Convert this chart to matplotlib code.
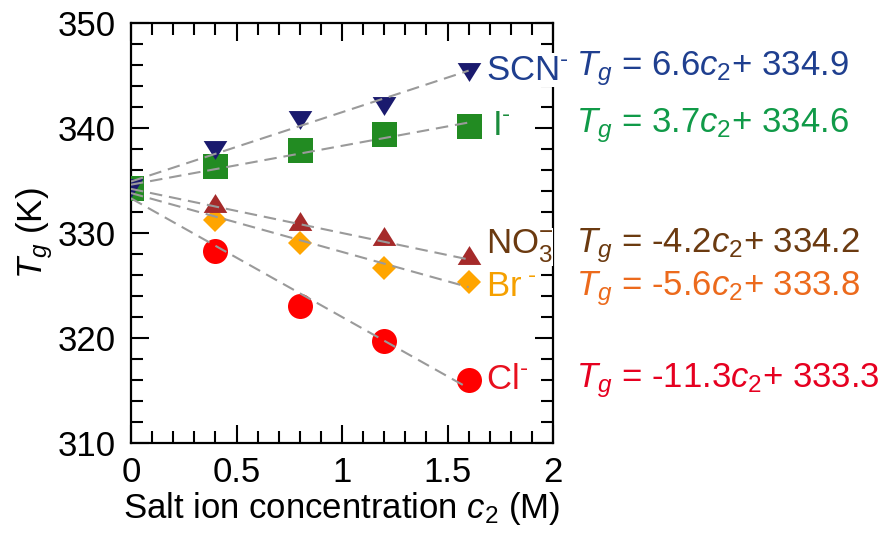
import matplotlib
matplotlib.use("Agg")
import matplotlib.pyplot as plt
import numpy as np
from matplotlib.path import Path
from matplotlib.ticker import MultipleLocator

plt.rcParams['font.family'] = ['Liberation Sans', 'DejaVu Sans']
plt.rcParams['mathtext.fontset'] = 'custom'
plt.rcParams['mathtext.rm'] = 'Liberation Sans'
plt.rcParams['mathtext.it'] = 'Liberation Sans:italic'
plt.rcParams['mathtext.bf'] = 'Liberation Sans:bold'

# Data
conc = [0.0, 0.4, 0.8, 1.2, 1.6]
tg_cl = [334.3, 328.3, 323.0, 319.7, 316.0]
tg_br = [334.3, 331.2, 329.0, 326.7, 325.3]
tg_no3 = [334.3, 332.9, 331.1, 329.7, 327.9]
tg_i = [334.3, 336.4, 337.9, 339.4, 340.2]
tg_scn = [334.3, 337.9, 340.8, 342.1, 345.3]

slopes = {'Cl': -11.3, 'Br': -5.6, 'NO3': -4.2, 'I': 3.7, 'SCN': 6.6}
intercepts = {'Cl': 333.3, 'Br': 333.8, 'NO3': 334.2, 'I': 334.6, 'SCN': 334.9}

ion_labels = {'SCN': 'SCN$^{\\text{-}}$', 'I': 'I$^{\\text{-}}$',
              'NO3': 'NO$_{3}^{-}$', 'Br': 'Br$^{\\ \\text{-}}$',
              'Cl': 'Cl$^{\\text{-}}$'}

tri_down = Path([(-1, 0.8), (1, 0.8), (0, -0.8), (-1, 0.8)],
                [Path.MOVETO, Path.LINETO, Path.LINETO, Path.CLOSEPOLY])
tri_up = Path([(-1, -0.8), (1, -0.8), (0, 0.8), (-1, -0.8)],
              [Path.MOVETO, Path.LINETO, Path.LINETO, Path.CLOSEPOLY])

series = [
    ('Cl', tg_cl, 'o', 18, '#ff0000', '#e8101e', '#e60020', 316.0, 315.9),
    ('Br', tg_br, 'D', 12.5, '#ffa500', '#f5a000', '#ec6a1c', 324.9, 324.7),
    ('NO3', tg_no3, tri_up, 17, '#a52a2a', '#6b3a10', '#6b3a10', 328.7, 328.8),
    ('I', tg_i, 's', 18, '#228b22', '#1a8c3c', '#109a48', 340.2, 340.2),
    ('SCN', tg_scn, tri_down, 17, '#1a1a6e', '#1f3f8f', '#1f3f8f', 345.5, 345.7),
]

FS = 25

fig = plt.figure(figsize=(8.93, 5.34), dpi=100)
ax = fig.add_axes([0.1467, 0.1704, 0.4726, 0.7866])

xf = np.array([0.0, 1.6])
for name, vals, mk, ms, mcol, tcol, ecol, ylab, yeq in series:
    ax.plot(conc, vals, linestyle='none', marker=mk, markersize=ms,
            color=mcol, markeredgewidth=0, zorder=3)
    ax.plot(xf, slopes[name] * xf + intercepts[name], linestyle=(0, (6, 3.3)),
            color='#9a9a9a', linewidth=1.5, zorder=4)
    xl = 1.71 if name == 'I' else 1.68
    ax.text(xl, ylab, ion_labels[name], color=tcol, fontsize=FS,
            va='center', ha='left', clip_on=False, zorder=6,
            bbox=dict(facecolor='white', edgecolor='none', pad=0.3))
    eq = '$T_g$ = %.1f$c_2$+ %.1f' % (slopes[name], intercepts[name])
    ax.text(2.11, yeq, eq, color=ecol, fontsize=FS, va='center', ha='left',
            clip_on=False)

ax.set_xlim(0, 2)
ax.set_ylim(310, 350)
ax.xaxis.set_minor_locator(MultipleLocator(0.1))
ax.yaxis.set_major_locator(MultipleLocator(10))
ax.yaxis.set_minor_locator(MultipleLocator(2))
ax.set_xticks([0, 0.5, 1, 1.5, 2])
ax.set_xticklabels(['0', '0.5', '1', '1.5', '2'])
ax.tick_params(which='both', direction='in', top=True, right=True,
               labelsize=FS, width=1.5, colors='black')
ax.tick_params(which='major', length=13)
ax.tick_params(axis='x', which='major', pad=9)
ax.tick_params(axis='y', which='major', pad=11)
ax.tick_params(which='minor', length=8.5)
for s in ax.spines.values():
    s.set_linewidth(1.6)

ax.set_xlabel('Salt ion concentration $c_2$ (M)', fontsize=FS, labelpad=1)
ax.set_ylabel('$T_g$ (K)', fontsize=FS, labelpad=2)

fig.savefig('out.png', dpi=100)
